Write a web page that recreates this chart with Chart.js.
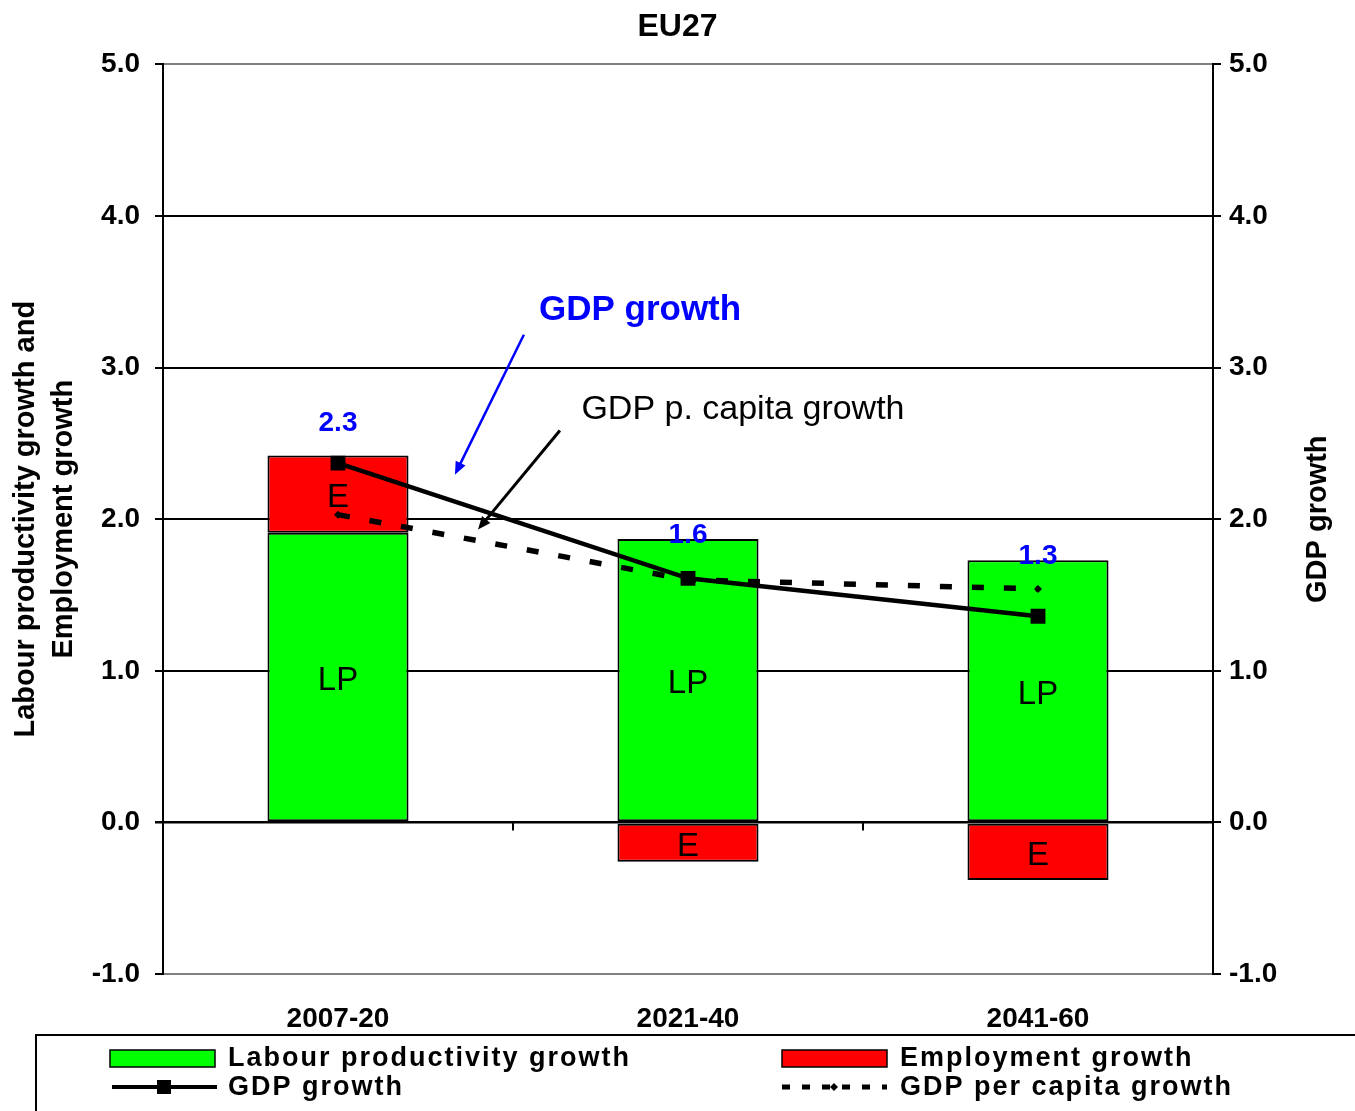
<!DOCTYPE html>
<html>
<head>
<meta charset="utf-8">
<script src="https://cdn.jsdelivr.net/npm/chart.js@4/dist/chart.umd.min.js"></script>
<style>
  body { margin: 0; background: #fff; }
  #wrap { width: 1355px; height: 1111px; }
</style>
</head>
<body>
<div id="wrap"><canvas id="chart" width="1355" height="1111"></canvas></div>
<script>
// values
const periods = ['2007-20', '2021-40', '2041-60'];
const labourProductivity = [1.91, 1.87, 1.73];
const employment = [0.51, -0.26, -0.38];
const gdpGrowth = [2.37, 1.61, 1.36];
const gdpPerCapita = [2.03, 1.60, 1.54];
const gdpLabels = ['2.3', '1.6', '1.3'];
const yTicks = [-1, 0, 1, 2, 3, 4, 5];

const FONT = 'Arial, "Liberation Sans", sans-serif';

// notes and arrows in the plot, in category / value units
const notes = [
    { text: 'GDP growth', x: 0.863, y: 3.376, color: '#0000FF', bold: true, size: 35, from: [0.531, 3.217], to: [0.334, 2.294], width: 2.5 },
    { text: 'GDP p. capita growth', x: 1.157, y: 2.723, color: '#000', bold: false, size: 34, from: [0.634, 2.585], to: [0.40, 1.932], width: 3 },
];

function arrow(ctx, x1, y1, x2, y2, color, w) {
    const ang = Math.atan2(y2 - y1, x2 - x1);
    const head = 14;
    ctx.save();
    ctx.strokeStyle = color;
    ctx.fillStyle = color;
    ctx.lineWidth = w;
    ctx.beginPath();
    ctx.moveTo(x1, y1);
    ctx.lineTo(x2 - Math.cos(ang) * head * 0.8, y2 - Math.sin(ang) * head * 0.8);
    ctx.stroke();
    ctx.beginPath();
    ctx.moveTo(x2, y2);
    ctx.lineTo(x2 - head * Math.cos(ang - 0.4), y2 - head * Math.sin(ang - 0.4));
    ctx.lineTo(x2 - head * Math.cos(ang + 0.4), y2 - head * Math.sin(ang + 0.4));
    ctx.closePath();
    ctx.fill();
    ctx.restore();
}

const extras = {
    id: 'extras',
    afterDatasetsDraw(chart) {
        const ctx = chart.ctx;
        const x = chart.scales.x;
        const y = chart.scales.y;

        // LP / E names inside the bar segments
        ctx.save();
        ctx.fillStyle = '#000';
        ctx.textAlign = 'center';
        ctx.textBaseline = 'middle';
        ctx.font = '33px ' + FONT;
        [[0, 'LP'], [1, 'E']].forEach(([di, name]) => {
            chart.getDatasetMeta(di).data.forEach(bar => {
                ctx.fillText(name, bar.x, (bar.y + bar.base) / 2 + 4);
            });
        });

        // GDP growth value labels
        ctx.fillStyle = '#0000FF';
        ctx.font = 'bold 28px ' + FONT;
        chart.getDatasetMeta(2).data.forEach((pt, i) => {
            const barTop = chart.getDatasetMeta(0).data[i].y;
            ctx.fillText(gdpLabels[i], pt.x, Math.min(pt.y - 40, barTop - 4));
        });

        // small ticks between categories on the zero line
        ctx.strokeStyle = '#000';
        ctx.lineWidth = 2;
        const y0 = y.getPixelForValue(0);
        for (let i = 1; i < periods.length; i++) {
            const xb = x.getPixelForValue(i - 0.5);
            ctx.beginPath();
            ctx.moveTo(xb, y0);
            ctx.lineTo(xb, y0 + 8);
            ctx.stroke();
        }

        // notes with arrows
        notes.forEach(n => {
            ctx.fillStyle = n.color;
            ctx.font = (n.bold ? 'bold ' : '') + n.size + 'px ' + FONT;
            ctx.fillText(n.text, x.getPixelForValue(n.x), y.getPixelForValue(n.y));
            arrow(ctx, x.getPixelForValue(n.from[0]), y.getPixelForValue(n.from[1]),
                x.getPixelForValue(n.to[0]), y.getPixelForValue(n.to[1]), n.color, n.width);
        });

        // right axis title, reading bottom to top
        const y2 = chart.scales.y2;
        ctx.fillStyle = '#000';
        ctx.font = 'bold 29px ' + FONT;
        ctx.translate(1318, (y2.top + y2.bottom) / 2);
        ctx.rotate(-Math.PI / 2);
        ctx.fillText('GDP growth', 0, 0);
        ctx.restore();
    },
    afterDraw(chart) {
        const ctx = chart.ctx;
        const ds = chart.data.datasets;
        ctx.save();
        ctx.strokeStyle = '#000';
        ctx.lineWidth = 2;
        ctx.strokeRect(36, 1035, 1400, 120);

        ctx.font = 'bold 27px ' + FONT;
        ctx.letterSpacing = '2px';
        ctx.textAlign = 'left';
        ctx.textBaseline = 'middle';
        ctx.fillStyle = '#000';

        const cols = [110, 782];
        const rows = [1058, 1087];
        const items = [
            { ds: ds[0], col: 0, row: 0, kind: 'box' },
            { ds: ds[1], col: 1, row: 0, kind: 'box' },
            { ds: ds[2], col: 0, row: 1, kind: 'line' },
            { ds: ds[3], col: 1, row: 1, kind: 'dash' },
        ];
        items.forEach(it => {
            const lx = cols[it.col];
            const ly = rows[it.row];
            if (it.kind === 'box') {
                ctx.fillStyle = it.ds.backgroundColor;
                ctx.fillRect(lx, ly - 8, 105, 17);
                ctx.lineWidth = 1.5;
                ctx.strokeRect(lx, ly - 8, 105, 17);
            } else if (it.kind === 'line') {
                ctx.lineWidth = 4;
                ctx.beginPath();
                ctx.moveTo(lx + 2, ly);
                ctx.lineTo(lx + 107, ly);
                ctx.stroke();
                ctx.fillStyle = '#000';
                ctx.fillRect(lx + 47, ly - 7, 14, 14);
            } else {
                ctx.lineWidth = 5;
                ctx.setLineDash([8, 12]);
                ctx.beginPath();
                ctx.moveTo(lx, ly);
                ctx.lineTo(lx + 105, ly);
                ctx.stroke();
                ctx.setLineDash([]);
                ctx.fillStyle = '#000';
                ctx.beginPath();
                ctx.moveTo(lx + 52, ly - 4);
                ctx.lineTo(lx + 56, ly);
                ctx.lineTo(lx + 52, ly + 4);
                ctx.lineTo(lx + 48, ly);
                ctx.fill();
            }
            ctx.fillStyle = '#000';
            ctx.fillText(it.ds.label, lx + 118, ly + 1);
        });
        ctx.restore();
    }
};

const gridColor = ctx => (ctx.tick && (ctx.tick.value === 5 || ctx.tick.value === -1)) ? '#808080' : '#000';

new Chart(document.getElementById('chart'), {
    type: 'bar',
    data: {
        labels: periods,
        datasets: [
            {
                label: 'Labour productivity growth',
                data: labourProductivity,
                backgroundColor: '#00FF00',
                borderColor: '#000',
                borderWidth: 2,
                borderSkipped: false,
                stack: 'growth',
                yAxisID: 'y',
                order: 2,
            },
            {
                label: 'Employment growth',
                data: employment,
                backgroundColor: '#FF0000',
                borderColor: '#000',
                borderWidth: 2,
                borderSkipped: false,
                stack: 'growth',
                yAxisID: 'y',
                order: 2,
            },
            {
                type: 'line',
                label: 'GDP growth',
                data: gdpGrowth,
                borderColor: '#000',
                backgroundColor: '#000',
                borderWidth: 4.5,
                pointStyle: 'rect',
                pointRadius: 10.5,
                pointBorderWidth: 0,
                tension: 0,
                yAxisID: 'y2',
                order: 0,
            },
            {
                type: 'line',
                label: 'GDP per capita growth',
                data: gdpPerCapita,
                borderColor: '#000',
                backgroundColor: '#000',
                borderWidth: 5.5,
                borderDash: [12, 20],
                pointStyle: 'rectRot',
                pointRadius: 4,
                pointBorderWidth: 0,
                tension: 0,
                yAxisID: 'y2',
                order: 1,
            },
        ],
    },
    options: {
        responsive: false,
        animation: false,
        devicePixelRatio: 1,
        layout: { padding: 0 },
        datasets: {
            bar: { categoryPercentage: 1, barPercentage: 0.403 },
        },
        plugins: {
            legend: { display: false },
            tooltip: { enabled: false },
            title: {
                display: true,
                text: 'EU27',
                color: '#000',
                font: { family: FONT, size: 32, weight: 'bold', lineHeight: 1.2 },
                padding: { top: 8, bottom: 18 },
            },
        },
        scales: {
            x: {
                stacked: true,
                grid: { display: false },
                border: { display: false },
                ticks: { color: '#000', font: { family: FONT, size: 28, weight: 'bold' }, padding: 20 },
                afterFit: s => { s.height = 137; },
            },
            y: {
                stacked: true,
                position: 'left',
                min: -1,
                max: 5,
                afterBuildTicks: s => { s.ticks = yTicks.map(v => ({ value: v })); },
                ticks: {
                    color: '#000',
                    padding: 15,
                    font: { family: FONT, size: 28, weight: 'bold' },
                    callback: v => v.toFixed(1),
                },
                grid: {
                    color: gridColor,
                    lineWidth: c => (c.tick && c.tick.value === 0) ? 2.5 : 2,
                    tickLength: 8,
                    tickColor: '#000',
                },
                border: { display: true, color: '#000', width: 2 },
                title: {
                    display: true,
                    text: ['Labour productivity growth and', 'Employment growth'],
                    color: '#000',
                    font: { family: FONT, size: 29, weight: 'bold', lineHeight: 1.3 },
                    padding: { top: 7, bottom: 0 },
                },
                afterFit: s => { s.width = 163; },
            },
            y2: {
                position: 'right',
                min: -1,
                max: 5,
                afterBuildTicks: s => { s.ticks = yTicks.map(v => ({ value: v })); },
                ticks: {
                    color: '#000',
                    padding: 8,
                    font: { family: FONT, size: 28, weight: 'bold' },
                    callback: v => v.toFixed(1),
                },
                grid: { drawOnChartArea: false, tickLength: 8, color: '#000', lineWidth: 2 },
                border: { display: true, color: '#000', width: 2 },
                afterFit: s => { s.width = 142; },
            },
        },
    },
    plugins: [extras],
});
</script>
</body>
</html>
